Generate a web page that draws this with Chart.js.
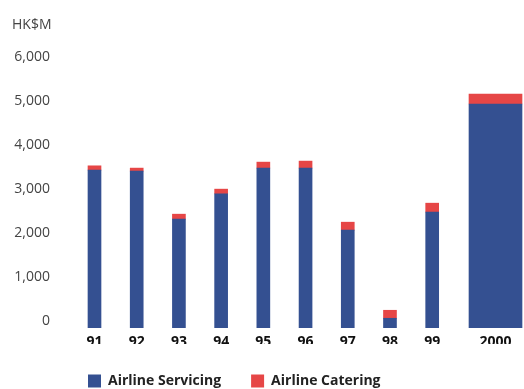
<!DOCTYPE html>
<html>
<head>
<meta charset="utf-8">
<script src="https://cdn.jsdelivr.net/npm/chart.js@4"></script>
<style>
html, body { margin: 0; padding: 0; background: #fff; }
#wrap { width: 524px; height: 389px; position: relative; }
</style>
</head>
<body>
<div id="wrap"><canvas id="chart"></canvas></div>
<script>
'use strict'

const years = ['91', '92', '93', '94', '95', '96', '97', '98', '99', '2000'];
const servicing = [3588, 3565, 2473, 3049, 3634, 3634, 2223, 221, 2633, 5090];
const catering = [98, 69, 114, 107, 136, 159, 182, 182, 204, 227];
const yTicks = [0, 1000, 2000, 3000, 4000, 5000, 6000];

const blue = '#345091';
const red = '#e64646';
const fontFamily = '"Open Sans", "DejaVu Sans", sans-serif';

// the 2000 bar sits half a slot further right than the others
function xFor(i){
    return years[i] === '2000' ? i + 1.5 : i + 1;
}
const xValues = years.map((y, i) => xFor(i));

function points(values, wide){
    let out = [];
    for(let i = 0; i < years.length; i++){
        if((years[i] === '2000') === wide){
            out.push({x: xFor(i), y: values[i]});
        }
    }
    return out;
}

const data = {
    datasets: [{
        label: 'Airline Servicing',
        data: points(servicing, false),
        backgroundColor: blue,
        barThickness: 13
    },
    {
        label: 'Airline Catering',
        data: points(catering, false),
        backgroundColor: red,
        barThickness: 13
    },
    {
        label: 'Airline Servicing 2000',
        data: points(servicing, true),
        backgroundColor: blue,
        barThickness: 53
    },
    {
        label: 'Airline Catering 2000',
        data: points(catering, true),
        backgroundColor: red,
        barThickness: 53
    }]
};

const config = {
    type: 'bar',
    data: data,
    options: {
        responsive: true,
        maintainAspectRatio: false,
        animation: false,
        layout: {
            padding: {left: 12, right: 0, top: 0, bottom: -9}
        },
        plugins: {
            title: {
                display: true,
                text: 'HK$M',
                align: 'start',
                color: '#444',
                font: {family: fontFamily, size: 14, weight: 'normal'},
                padding: {top: 16.6, bottom: 30.6}
            },
            legend: {
                position: 'bottom',
                align: 'start',
                fullSize: false,
                labels: {
                    boxWidth: 13,
                    boxHeight: 13,
                    padding: 30,
                    color: '#222',
                    font: {family: fontFamily, size: 14, weight: 'bold'},
                    filter: (item) => item.datasetIndex < 2
                }
            },
            tooltip: {enabled: false}
        },
        scales: {
            x: {
                type: 'linear',
                stacked: true,
                offset: false,
                min: 0.1353,
                max: 11.175,
                grid: {display: false, drawTicks: false},
                border: {display: false},
                afterBuildTicks: (scale) => {
                    scale.ticks = xValues.map(v => ({value: v}));
                },
                afterFit: (scale) => {
                    scale.height = 16;
                },
                ticks: {
                    autoSkip: false,
                    maxRotation: 0,
                    padding: 6,
                    color: '#111',
                    font: {family: fontFamily, size: 14, weight: 'bold'},
                    callback: (value) => years[xValues.indexOf(value)]
                }
            },
            y: {
                stacked: true,
                min: 0,
                max: 6000,
                grid: {display: false, drawTicks: false},
                border: {display: false},
                afterBuildTicks: (scale) => {
                    scale.ticks = yTicks.map(v => ({value: v}));
                },
                afterFit: (scale) => {
                    scale.width = 46;
                },
                ticks: {
                    align: 'end',
                    padding: 8,
                    color: '#444',
                    font: {family: fontFamily, size: 14, weight: 'normal'},
                    callback: (value) => value.toLocaleString('en-US')
                }
            }
        }
    }
};

const chart = new Chart(document.getElementById('chart'), config);
</script>
</body>
</html>
